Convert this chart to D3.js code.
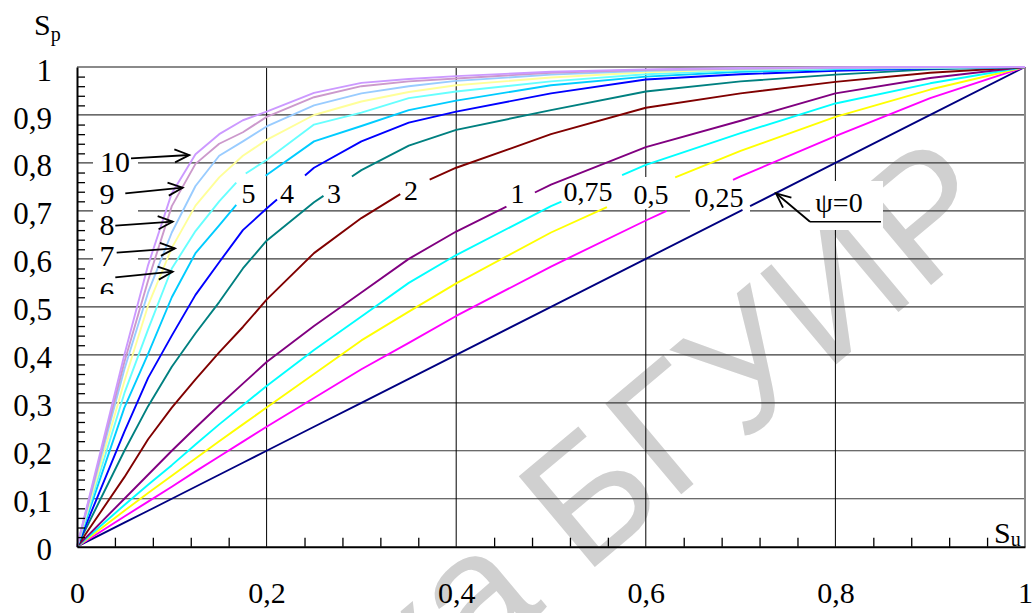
<!DOCTYPE html>
<html><head><meta charset="utf-8">
<script src="https://cdn.jsdelivr.net/npm/d3@7"></script>
<style>html,body{margin:0;padding:0;background:#fff;} svg{display:block;}</style>
</head><body>
<svg id="chart" width="1032" height="613"></svg>
<script>
// ---------------- DATA ----------------
const suValues   = [0, 0.05, 0.075, 0.1, 0.125, 0.15, 0.175, 0.2, 0.25, 0.3, 0.35, 0.4, 0.5, 0.6, 0.7, 0.8, 0.9, 1];
const psiLabels  = ["0", "0,25", "0,5", "0,75", "1", "2", "3", "4", "5", "6", "7", "8", "9", "10"];
const sp_psi0    = [0, 0.05, 0.075, 0.1, 0.125, 0.15, 0.175, 0.2, 0.25, 0.3, 0.35, 0.4, 0.5, 0.6, 0.7, 0.8, 0.9, 1];
const sp_psi025  = [0, 0.063, 0.094, 0.125, 0.157, 0.188, 0.219, 0.25, 0.31, 0.37, 0.425, 0.481, 0.584, 0.68, 0.772, 0.856, 0.935, 1];
const sp_psi05   = [0, 0.075, 0.112, 0.148, 0.184, 0.22, 0.255, 0.29, 0.36, 0.43, 0.49, 0.549, 0.655, 0.745, 0.825, 0.896, 0.953, 1];
const sp_psi075  = [0, 0.087, 0.129, 0.17, 0.213, 0.255, 0.295, 0.335, 0.41, 0.48, 0.55, 0.608, 0.71, 0.796, 0.862, 0.924, 0.966, 1];
const sp_psi1    = [0, 0.1, 0.15, 0.2, 0.248, 0.295, 0.34, 0.385, 0.46, 0.53, 0.6, 0.657, 0.755, 0.833, 0.888, 0.945, 0.977, 1];
const sp_psi2    = [0, 0.145, 0.224, 0.29, 0.349, 0.405, 0.458, 0.515, 0.612, 0.685, 0.746, 0.79, 0.86, 0.915, 0.945, 0.969, 0.988, 1];
const sp_psi3    = [0, 0.2, 0.293, 0.375, 0.445, 0.51, 0.58, 0.638, 0.718, 0.785, 0.836, 0.869, 0.91, 0.949, 0.97, 0.984, 0.995, 1];
const sp_psi4    = [0, 0.24, 0.352, 0.44, 0.525, 0.593, 0.66, 0.705, 0.79, 0.845, 0.884, 0.907, 0.945, 0.974, 0.985, 0.992, 0.997, 1];
const sp_psi5    = [0, 0.29, 0.402, 0.52, 0.612, 0.67, 0.729, 0.775, 0.845, 0.877, 0.91, 0.93, 0.962, 0.98, 0.99, 0.995, 0.998, 1];
const sp_psi6    = [0, 0.32, 0.453, 0.58, 0.658, 0.72, 0.774, 0.806, 0.88, 0.905, 0.935, 0.949, 0.97, 0.985, 0.993, 0.997, 0.999, 1];
const sp_psi7    = [0, 0.345, 0.503, 0.623, 0.711, 0.77, 0.815, 0.848, 0.9, 0.928, 0.948, 0.962, 0.978, 0.989, 0.995, 0.998, 0.999, 1];
const sp_psi8    = [0, 0.37, 0.53, 0.655, 0.752, 0.815, 0.845, 0.876, 0.92, 0.945, 0.96, 0.971, 0.984, 0.992, 0.996, 0.998, 0.9995, 1];
const sp_psi9    = [0, 0.385, 0.555, 0.71, 0.798, 0.84, 0.864, 0.896, 0.937, 0.96, 0.97, 0.976, 0.988, 0.994, 0.997, 0.999, 1, 1];
const sp_psi10   = [0, 0.40, 0.587, 0.737, 0.818, 0.86, 0.889, 0.907, 0.946, 0.967, 0.975, 0.981, 0.99, 0.995, 0.998, 0.999, 1, 1];
const yTickValues = [0, 0.1, 0.2, 0.3, 0.4, 0.5, 0.6, 0.7, 0.8, 0.9, 1];
const xTickValues = [0, 0.2, 0.4, 0.6, 0.8, 1];

// ---------------- STYLE / LAYOUT ----------------
const seriesValues = [sp_psi0, sp_psi025, sp_psi05, sp_psi075, sp_psi1, sp_psi2, sp_psi3, sp_psi4, sp_psi5, sp_psi6, sp_psi7, sp_psi8, sp_psi9, sp_psi10];
const colors = ["#000080", "#ff00ff", "#ffff00", "#00ffff", "#800080", "#800000", "#008080", "#0000ff", "#00ccff", "#66ffff", "#ffff99", "#99ccff", "#cc99cc", "#cc99ff"];
// gaps in curves where labels sit (Su range)
const gaps = [[0.702, 0.71], [0.622, 0.692], [0.559, 0.631], [0.511, 0.575], [0.453, 0.483], [0.341, 0.372], [0.26, 0.29], [0.211, 0.2405], [0.168, 0.199], [0.168, 0.178], null, null, null, null];

const svg = d3.select("#chart");
const serif = "'Liberation Serif','Times New Roman',serif";
const x = d3.scaleLinear().domain([0, 1]).range([77, 1025]);
const y = d3.scaleLinear().domain([0, 1]).range([546.7, 67]);

svg.append("rect").attr("width", 1032).attr("height", 613).attr("fill", "#fff");

// watermark
const wm = svg.append("g").attr("transform", "translate(584,576) rotate(-40)")
  .attr("font-family", "'Liberation Sans',Arial,sans-serif").attr("font-size", 172).attr("fill", "#d0d0d0");
wm.append("text").attr("text-anchor", "end").text("Библиотека\u00a0");
wm.append("text").attr("text-anchor", "start").text("БГУИР");

// grid
const g = svg.append("g");
g.selectAll(".hg").data(yTickValues.filter(v => v > 0 && v < 1)).enter().append("line")
  .attr("x1", x(0)).attr("x2", x(1)).attr("y1", d => y(d)).attr("y2", d => y(d))
  .attr("stroke", "#3a3a3a").attr("stroke-width", 1.2);
g.selectAll(".vg").data(xTickValues.filter(v => v > 0 && v < 1)).enter().append("line")
  .attr("y1", y(0)).attr("y2", y(1)).attr("x1", d => x(d)).attr("x2", d => x(d))
  .attr("stroke", "#000").attr("stroke-width", 1);
// top & right border
g.append("line").attr("x1", x(0)).attr("x2", x(1)).attr("y1", y(1)).attr("y2", y(1)).attr("stroke", "#8a8a8a").attr("stroke-width", 2);
g.append("line").attr("x1", x(1)).attr("x2", x(1)).attr("y1", y(1)).attr("y2", y(0)).attr("stroke", "#8a8a8a").attr("stroke-width", 2);

// white label boxes (cut the grid)
const boxes = [
  [93, 147, 45, 28], [93, 184, 45, 24], [93, 210, 45, 29], [93, 242, 45, 28],
  [633, 177, 36, 32], [690, 186, 60, 27], [810, 181, 73, 49]
];
svg.selectAll(".box").data(boxes).enter().append("rect")
  .attr("x", d => d[0]).attr("y", d => d[1]).attr("width", d => d[2]).attr("height", d => d[3])
  .attr("fill", "#fff");

// curves
const line = d3.line().x(d => x(d[0])).y(d => y(d[1]));
function interp(pts, xv) {
  for (let i = 1; i < pts.length; i++) {
    if (xv <= pts[i][0]) {
      const t = (xv - pts[i-1][0]) / (pts[i][0] - pts[i-1][0]);
      return [xv, pts[i-1][1] + t * (pts[i][1] - pts[i-1][1])];
    }
  }
  return pts[pts.length - 1];
}
const cg = svg.append("g");
seriesValues.forEach((vals, i) => {
  const pts = suValues.map((s, k) => [s, vals[k]]);
  let segs = [pts];
  const gp = gaps[i];
  if (gp) {
    const a = pts.filter(p => p[0] < gp[0]).concat([interp(pts, gp[0])]);
    const b = [interp(pts, gp[1])].concat(pts.filter(p => p[0] > gp[1]));
    segs = [a, b];
  }
  segs.forEach(s => cg.append("path").attr("d", line(s)).attr("fill", "none")
    .attr("stroke", colors[i]).attr("stroke-width", 1.9).attr("stroke-linejoin", "round"));
});

// axes
const fmt = d => (d === 0 || d === 1) ? String(d) : d3.format(".1f")(d).replace(".", ",");
const minorY = d3.range(1, 50).map(k => k * 0.02).filter(v => Math.abs(v * 10 - Math.round(v * 10)) > 1e-6);
const minorX = d3.range(1, 25).map(k => k * 0.04).filter(v => Math.abs(v * 5 - Math.round(v * 5)) > 1e-6);

svg.append("g").attr("transform", `translate(${x(0)},0)`)
  .call(d3.axisRight(y).tickValues(minorY).tickSize(8).tickSizeOuter(0).tickFormat(""))
  .call(a => a.selectAll("line").attr("stroke", "#000").attr("stroke-width", 1.3))
  .call(a => a.select(".domain").attr("stroke", "#000").attr("stroke-width", 2));
svg.append("g").attr("transform", `translate(0,${y(0)})`)
  .call(d3.axisTop(x).tickValues(minorX).tickSize(9).tickSizeOuter(0).tickFormat(""))
  .call(a => a.selectAll("line").attr("stroke", "#000").attr("stroke-width", 1.3))
  .call(a => a.select(".domain").attr("stroke", "#000").attr("stroke-width", 2));

// tick labels
svg.append("g").attr("transform", `translate(${x(0)},0)`)
  .call(d3.axisLeft(y).tickValues(yTickValues).tickSize(0).tickPadding(25).tickFormat(fmt))
  .call(a => a.select(".domain").remove())
  .call(a => a.selectAll("text").attr("font-family", serif).attr("font-size", 31).attr("fill", "#000").attr("dy", "0.42em"));
svg.append("g").attr("transform", `translate(0,${y(0)})`)
  .call(d3.axisBottom(x).tickValues(xTickValues).tickSize(0).tickPadding(35).tickFormat(fmt))
  .call(a => a.select(".domain").remove())
  .call(a => a.selectAll("text").attr("font-family", serif).attr("font-size", 30).attr("fill", "#000"));

// axis titles
const t1 = svg.append("text").attr("x", 34).attr("y", 35).attr("font-family", serif).attr("font-size", 30);
t1.append("tspan").text("S");
t1.append("tspan").attr("font-size", 20).attr("dy", 6).text("p");
const t2 = svg.append("text").attr("x", 994).attr("y", 543).attr("font-family", serif).attr("font-size", 30);
t2.append("tspan").text("S");
t2.append("tspan").attr("font-size", 20).attr("dy", 3).text("u");

// curve labels
const leftLabels = [
  {t: psiLabels[13], x: 115, y: 172, a: [131, 158.3, 189.3, 155]},
  {t: psiLabels[12], x: 107, y: 204, a: [125.3, 193.3, 182.7, 187.7]},
  {t: psiLabels[11], x: 107, y: 235, a: [115.3, 225.7, 172.7, 221.7]},
  {t: psiLabels[10], x: 107, y: 266, a: [116.7, 252.7, 175, 248.3]},
  {t: psiLabels[9],  x: 107, y: 302, a: [115.3, 277.3, 172.7, 271.7]}
];
const midLabels = [
  {t: psiLabels[8], x: 248.5, y: 203}, {t: psiLabels[7], x: 287, y: 203},
  {t: psiLabels[6], x: 334, y: 203}, {t: psiLabels[5], x: 411, y: 200},
  {t: psiLabels[4], x: 517.5, y: 203}, {t: psiLabels[3], x: 588, y: 201},
  {t: psiLabels[2], x: 651, y: 204}, {t: psiLabels[1], x: 719, y: 207},
  {t: "ψ=" + psiLabels[0], x: 839, y: 212}
];
const lg = svg.append("g").attr("font-family", serif).attr("fill", "#000").attr("text-anchor", "middle");
leftLabels.forEach(l => lg.append("text").attr("x", l.x).attr("y", l.y).attr("font-size", 30).text(l.t));
midLabels.forEach(l => lg.append("text").attr("x", l.x).attr("y", l.y).attr("font-size", 28).text(l.t));
// hide lower part of "6" as in reference
svg.append("rect").attr("x", 97).attr("y", 294).attr("width", 22).attr("height", 10).attr("fill", "#fff");

function arrow(x1, y1, x2, y2) {
  const ang = Math.atan2(y2 - y1, x2 - x1);
  const L = 16, w = 0.42;
  svg.append("line").attr("x1", x1).attr("y1", y1).attr("x2", x2).attr("y2", y2).attr("stroke", "#000").attr("stroke-width", 1.8);
  svg.append("path").attr("d",
    `M${x2 - L * Math.cos(ang - w)},${y2 - L * Math.sin(ang - w)} L${x2},${y2} L${x2 - L * Math.cos(ang + w)},${y2 - L * Math.sin(ang + w)}`)
    .attr("fill", "none").attr("stroke", "#000").attr("stroke-width", 1.8);
}
leftLabels.forEach(l => arrow(...l.a));
svg.append("line").attr("x1", 881).attr("y1", 221.7).attr("x2", 810).attr("y2", 221.7).attr("stroke", "#000").attr("stroke-width", 1.5);
arrow(810, 221.7, 776, 193.3);
</script>
</body></html>
